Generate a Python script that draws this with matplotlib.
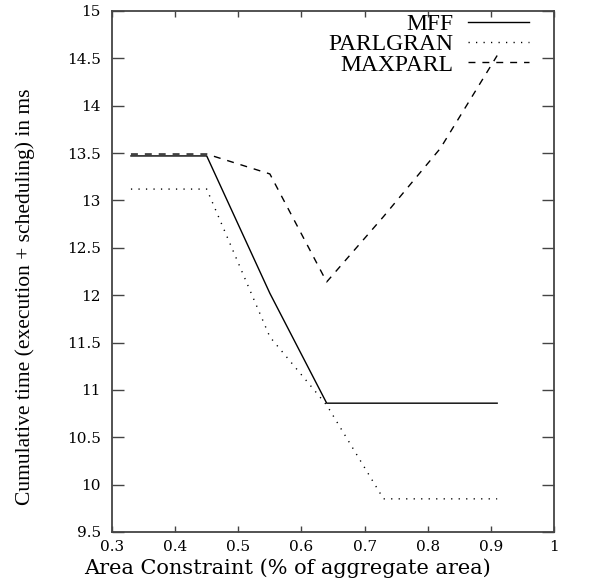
import matplotlib
matplotlib.use("Agg")
import matplotlib.pyplot as plt

# area constraint (fraction of aggregate area)
area = [0.33, 0.45, 0.55, 0.64, 0.73, 0.82, 0.91]

# cumulative time (execution + scheduling) in ms
mff = [13.47, 13.47, 12.02, 10.86, 10.86, 10.86, 10.86]
parlgran = [13.12, 13.12, 11.56, 10.84, 9.85, 9.85, 9.85]
maxparl = [13.49, 13.49, 13.28, 12.14, 12.83, 13.55, 14.53]

x_ticks = [0.3, 0.4, 0.5, 0.6, 0.7, 0.8, 0.9, 1.0]
x_tick_labels = ["0.3", "0.4", "0.5", "0.6", "0.7", "0.8", "0.9", "1"]
y_ticks = [9.5, 10, 10.5, 11, 11.5, 12, 12.5, 13, 13.5, 14, 14.5, 15]
y_tick_labels = ["9.5", "10", "10.5", "11", "11.5", "12", "12.5", "13", "13.5", "14", "14.5", "15"]

fig = plt.figure(figsize=(6.1, 5.84), dpi=100)
ax = fig.add_axes([112 / 610, 52 / 584, 442 / 610, 521 / 584])

ax.plot(area, mff, color="black", lw=1.0, label="MFF")
ax.plot(area, parlgran, color="black", lw=1.0, linestyle=(0, (0.9, 4.5)), label="PARLGRAN")
ax.plot(area, maxparl, color="black", lw=1.0, linestyle=(0, (5, 5)), label="MAXPARL")

ax.set_xlim(0.3, 1.0)
ax.set_ylim(9.5, 15)
ax.set_xticks(x_ticks)
ax.set_xticklabels(x_tick_labels)
ax.set_yticks(y_ticks)
ax.set_yticklabels(y_tick_labels)

for sp in ax.spines.values():
    sp.set_color("#444444")
    sp.set_linewidth(1.3)

ax.tick_params(axis="x", direction="in", top=True, length=4.3, width=1.0,
               color="#444444", pad=6)
ax.tick_params(axis="y", direction="in", right=True, length=8.6, width=1.0,
               color="#444444", pad=8)
for lab in ax.get_xticklabels() + ax.get_yticklabels():
    lab.set_fontfamily("DejaVu Serif")
    lab.set_fontsize(11)

leg = ax.legend(loc="upper right", bbox_to_anchor=(0.978, 1.025), frameon=False,
                markerfirst=False, borderpad=0.15, labelspacing=-0.05,
                handlelength=2.6, handletextpad=0.6,
                prop={"family": "Liberation Serif", "size": 17})

fig.text(287 / 610, 1 - 568 / 584, "Area Constraint (% of aggregate area)",
         family="DejaVu Serif", fontsize=15, ha="center", va="center")
fig.text(25 / 610, 1 - 297 / 584, "Cumulative time (execution + scheduling) in ms",
         family="Liberation Serif", fontsize=15.5, rotation=90,
         ha="center", va="center")

fig.savefig("out.png", dpi=100)
